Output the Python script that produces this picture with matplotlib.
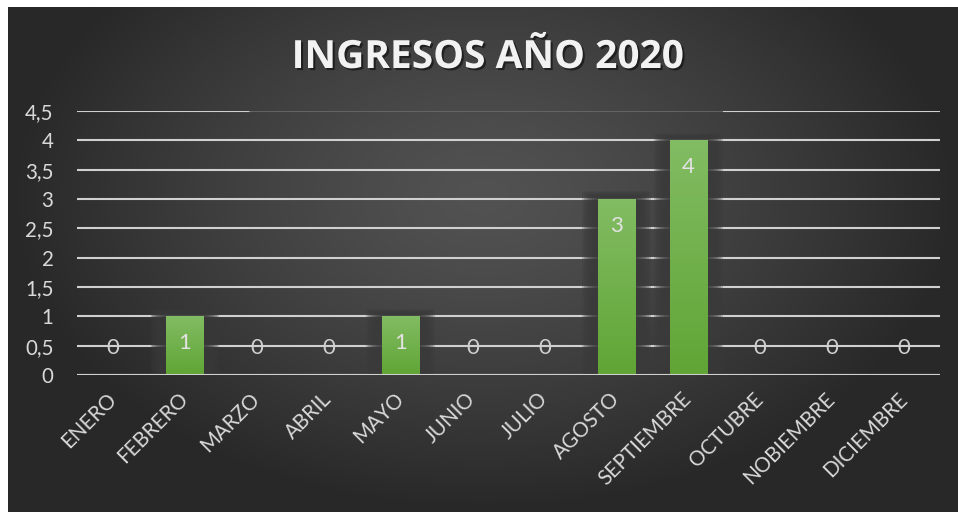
import numpy as np
import matplotlib
matplotlib.use('Agg')
import matplotlib.pyplot as plt
import matplotlib.patheffects as pe

# datos del grafico
meses = ['ENERO', 'FEBRERO', 'MARZO', 'ABRIL', 'MAYO', 'JUNIO', 'JULIO',
         'AGOSTO', 'SEPTIEMBRE', 'OCTUBRE', 'NOBIEMBRE', 'DICIEMBRE']
ingresos = [0, 1, 0, 0, 1, 0, 0, 3, 4, 0, 0, 0]
y_ticks = [0, 0.5, 1, 1.5, 2, 2.5, 3, 3.5, 4, 4.5]
y_labels = ['0', '0,5', '1', '1,5', '2', '2,5', '3', '3,5', '4', '4,5']
titulo = 'INGRESOS AÑO 2020'

W, H = 958, 512
fig = plt.figure(figsize=(W / 100, H / 100), dpi=100)
fig.patch.set_facecolor('white')

# fondo oscuro con degradado radial
bg = fig.add_axes([8 / W, 0, 1 - 8 / W, 505 / H])
bg.set_axis_off()
xx, yy = np.meshgrid(np.linspace(-1, 1, 480), np.linspace(-1, 1, 260))
r = np.sqrt((xx / 1.0) ** 2 + ((yy - 0.25) / 1.25) ** 2)
r = np.clip(r, 0, 1) ** 1.3
val = (82 - (82 - 40) * r) / 255
img = np.dstack([val, val, val])
bg.imshow(img, extent=[0, 1, 0, 1], origin='lower', aspect='auto')
bg.set_xlim(0, 1)
bg.set_ylim(0, 1)

# area del grafico
ax = fig.add_axes([77 / W, 1 - 375 / H, 863 / W, 264 / H])
ax.patch.set_alpha(0)
x = np.arange(len(meses))
ax.set_xlim(-0.5, len(meses) - 0.5)
ax.set_ylim(0, 4.5)
for s in ax.spines.values():
    s.set_visible(False)

# lineas de cuadricula
for yv in y_ticks:
    if yv == 4.5:
        ax.axhline(yv, xmin=0, xmax=0.2, color='#d0d0d0', lw=1.5, zorder=1)
        ax.axhline(yv, xmin=0.2, xmax=0.75, color='#6a6a6a', lw=1.2, zorder=1)
        ax.axhline(yv, xmin=0.75, xmax=1, color='#d0d0d0', lw=1.5, zorder=1)
    else:
        ax.axhline(yv, color='#d0d0d0', lw=1.5, zorder=1)

bw = 0.515
# sombra suave de las barras
for xi, v in zip(x, ingresos):
    if v <= 0:
        continue
    for s in np.linspace(0.22, 0.03, 8):
        ax.bar(xi, v + s * 0.6, width=bw + 2 * s, color='#3a3a3a',
               alpha=0.25, zorder=2, linewidth=0)

# barras con degradado verde
bars = ax.bar(x, ingresos, width=bw, color='#6aac3f', zorder=3, linewidth=0)
grad = np.linspace(0, 1, 100).reshape(-1, 1)
c_bot = np.array([0x60, 0xa5, 0x35]) / 255
c_top = np.array([0x82, 0xbc, 0x63]) / 255
gimg = c_bot + (c_top - c_bot) * grad[:, :, None]
for b, v in zip(bars, ingresos):
    if v <= 0:
        continue
    im = ax.imshow(gimg, extent=[b.get_x(), b.get_x() + b.get_width(), 0, v],
                   origin='lower', aspect='auto', zorder=4)
    im.set_clip_path(b)
ax.axhline(0, color='#d0d0d0', lw=1.5, zorder=5)

# etiquetas de datos
for xi, v in zip(x, ingresos):
    off = -19.5 if v > 0 else 19.5
    ax.annotate(str(v), (xi, v), xytext=(0, off), textcoords='offset points',
                ha='center', va='center', fontsize=16, family='Lato',
                color='#e2e2e2' if v > 0 else '#d0d0d0', zorder=6)

ax.set_yticks(y_ticks, y_labels)
ax.set_xticks(x, meses)
ax.tick_params(axis='both', length=0, colors='#d9d9d9', labelsize=14.8)
ax.tick_params(axis='y', pad=17)
ax.tick_params(axis='x', pad=15)
for lab in ax.get_yticklabels():
    lab.set_family('Lato')
for lab in ax.get_xticklabels():
    lab.set_family('Lato')
    lab.set_rotation(45)
    lab.set_ha('right')
    lab.set_va('center')
    lab.set_rotation_mode('anchor')

# titulo
fig.text(487.5 / W, 1 - 68 / H, titulo, ha='center', va='baseline',
         fontsize=28, fontweight='bold', family='Open Sans', color='#f2f2f2',
         path_effects=[pe.withSimplePatchShadow(offset=(1.5, -1.5),
                                                shadow_rgbFace='black', alpha=0.5)])

fig.savefig('out.png', dpi=100)
